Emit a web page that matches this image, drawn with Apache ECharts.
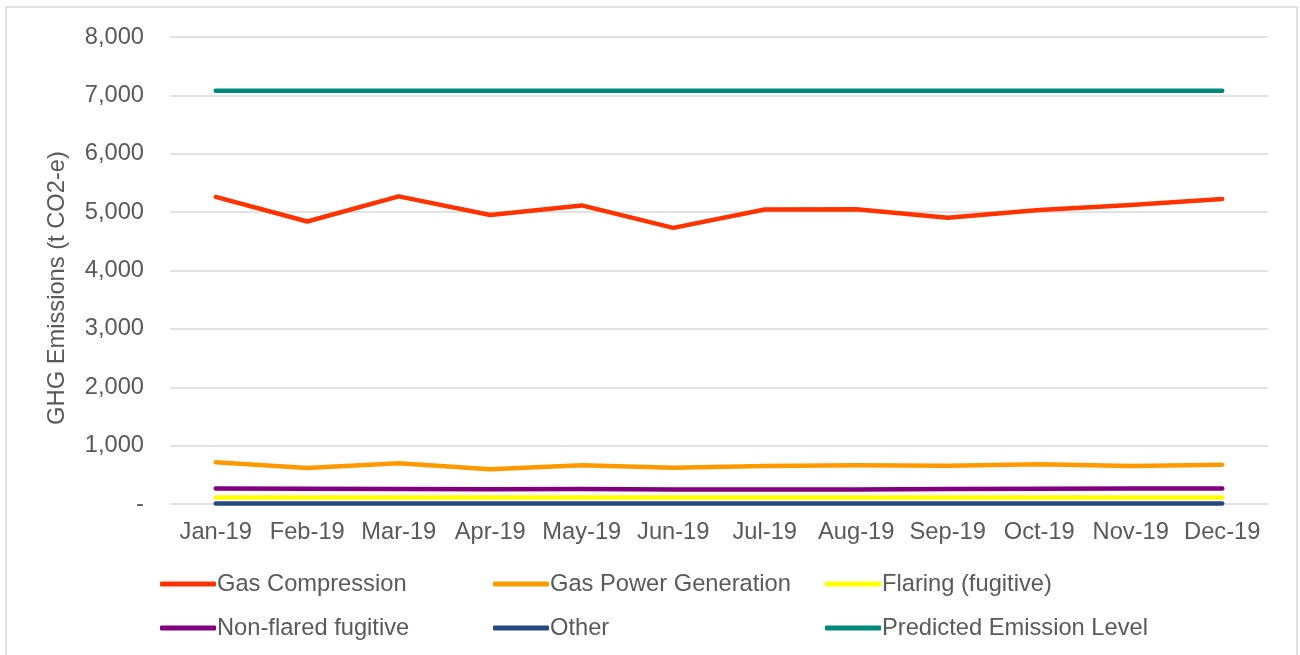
<!DOCTYPE html>
<html>
<head>
<meta charset="utf-8">
<script src="https://cdn.jsdelivr.net/npm/echarts@6/dist/echarts.min.js"></script>
<style>
html,body{margin:0;padding:0;background:#fff;}
#chart{width:1300px;height:655px;}
</style>
</head>
<body>
<div id="chart"></div>
<script>
const months = ['Jan-19','Feb-19','Mar-19','Apr-19','May-19','Jun-19','Jul-19','Aug-19','Sep-19','Oct-19','Nov-19','Dec-19'];
const gasCompression   = [5260, 4840, 5270, 4950, 5115, 4730, 5045, 5050, 4905, 5035, 5120, 5225];
const gasPowerGen      = [714, 617, 697, 594, 663, 620, 651, 663, 657, 680, 651, 674];
const flaringFugitive  = [110, 110, 110, 110, 110, 110, 110, 110, 110, 110, 110, 110];
const nonFlaredFugitive= [265, 262, 258, 252, 255, 248, 250, 250, 255, 262, 265, 265];
const other            = [10, 8, 9, 10, 10, 10, 10, 10, 10, 10, 10, 10];
const predicted        = [7080, 7080, 7080, 7080, 7080, 7080, 7080, 7080, 7080, 7080, 7080, 7080];
const yTicks = {min: 0, max: 8000, interval: 1000};

const font = 'Liberation Sans, Arial, sans-serif';
const txt = '#595959';
const fs = 23.7;

function line(name, data, color) {
  return {
    name, type: 'line', data, symbol: 'none', smooth: false,
    lineStyle: {color, width: 4.5, cap: 'round', join: 'round'},
    itemStyle: {color},
    emphasis: {disabled: true}
  };
}

const legendCommon = {
  orient: 'vertical', top: 567, itemGap: 20, itemWidth: 56, itemHeight: 5,
  icon: 'roundRect',
  textStyle: {color: txt, fontSize: fs, fontFamily: font, padding: [0, 0, 0, -4]},
  selectedMode: false
};

const chart = echarts.init(document.getElementById('chart'));
chart.setOption({
  animation: false,
  backgroundColor: '#fff',
  grid: {left: 170, right: 32, top: 37, bottom: 151},
  xAxis: {
    type: 'category', data: months, boundaryGap: true,
    axisLine: {show: false}, axisTick: {show: false},
    axisLabel: {color: txt, fontSize: fs, fontFamily: font, margin: 16, interval: 0}
  },
  yAxis: {
    type: 'value', min: yTicks.min, max: yTicks.max, interval: yTicks.interval,
    axisLine: {show: false}, axisTick: {show: false},
    splitLine: {lineStyle: {color: '#d9d9d9', width: 1.5}},
    axisLabel: {
      color: txt, fontSize: fs, fontFamily: font, margin: 26,
      formatter: v => v === 0 ? '-' : v.toLocaleString('en-US')
    }
  },
  legend: [
    Object.assign({}, legendCommon, {left: 155, data: ['Gas Compression', 'Non-flared fugitive']}),
    Object.assign({}, legendCommon, {left: 488, data: ['Gas Power Generation', 'Other']}),
    Object.assign({}, legendCommon, {left: 820, data: ['Flaring (fugitive)', 'Predicted Emission Level']})
  ],
  graphic: [
    {type: 'rect', shape: {x: 6, y: 7, width: 1291, height: 660},
     style: {fill: 'none', stroke: '#d9d9d9', lineWidth: 1.5}, silent: true},
    {type: 'text', x: 57, y: 288, rotation: Math.PI / 2,
     style: {text: 'GHG Emissions (t CO2-e)', fill: txt, fontSize: fs, fontFamily: font,
             align: 'center', verticalAlign: 'middle'}}
  ],
  series: [
    line('Gas Compression', gasCompression, '#FF3300'),
    line('Gas Power Generation', gasPowerGen, '#FF9900'),
    line('Flaring (fugitive)', flaringFugitive, '#FFFF00'),
    line('Non-flared fugitive', nonFlaredFugitive, '#800080'),
    line('Other', other, '#264A80'),
    line('Predicted Emission Level', predicted, '#00897B')
  ]
});
</script>
</body>
</html>
